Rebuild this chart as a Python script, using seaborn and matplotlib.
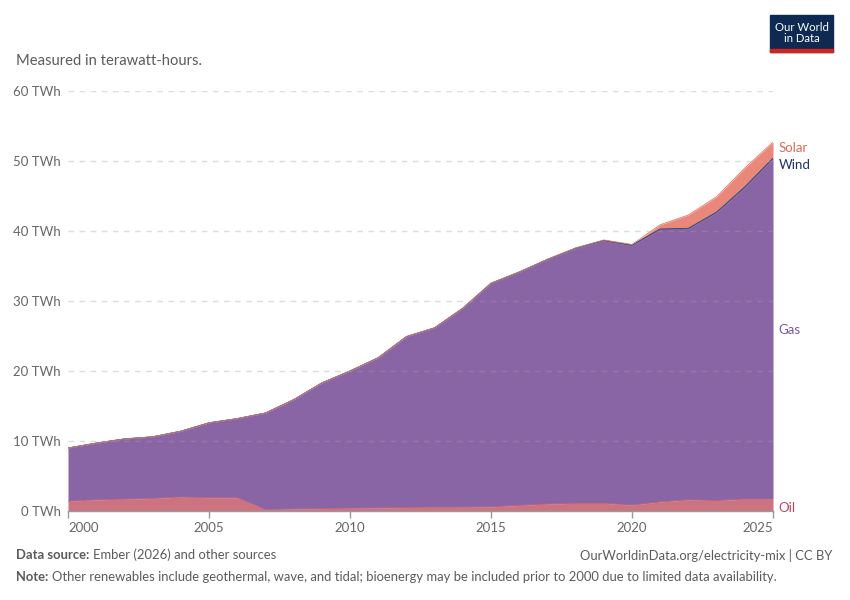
import numpy as np
import pandas as pd
import matplotlib
matplotlib.use("Agg")
import matplotlib.pyplot as plt
import seaborn as sns
from matplotlib.patches import Rectangle

# ========== 数据（从图上读取，单位 TWh） ==========
years = list(range(2000, 2026))
oil = [1.4, 1.6, 1.7, 1.8, 2.0, 1.9, 1.9, 0.2, 0.3, 0.35, 0.4, 0.45, 0.5,
       0.55, 0.55, 0.6, 0.8, 1.0, 1.1, 1.1, 0.85, 1.3, 1.6, 1.5, 1.7, 1.7]
gas = [7.6, 8.1, 8.6, 8.8, 9.4, 10.7, 11.3, 13.8, 15.6, 17.95, 19.6, 21.45,
       24.4, 25.6, 28.4, 31.9, 33.3, 34.9, 36.4, 37.5, 37.05, 38.9, 38.7,
       41.1, 44.5, 48.6]
wind = [0.0] * 12 + [0.02, 0.03, 0.03, 0.05, 0.05, 0.06, 0.07, 0.07,
                     0.08, 0.09, 0.09, 0.1, 0.1, 0.1]
solar = [0.0] * 19 + [0.05, 0.1, 0.6, 1.9, 2.2, 2.7, 2.3]

series_names = ["Oil", "Gas", "Wind", "Solar"]
fill_colors = {"Oil": "#cd737f", "Gas": "#8a65a5", "Wind": "#2b4a7e", "Solar": "#e9887a"}
edge_colors = {"Oil": "#c46676", "Gas": "#7f5d98", "Wind": "#2a4372", "Solar": "#df7a68"}
label_colors = {"Oil": "#c4455e", "Gas": "#7a56a0", "Wind": "#1a3263", "Solar": "#e06a55"}
label_y = {"Solar": 51.9, "Wind": 49.4, "Gas": 25.85, "Oil": 0.45}

df = pd.DataFrame({"year": years, "Oil": oil, "Gas": gas, "Wind": wind, "Solar": solar})
cum = df[series_names].cumsum(axis=1)

# ========== 绘图 ==========
sns.set_theme(style="white")
plt.rcParams["font.family"] = ["Lato", "DejaVu Sans"]

fig = plt.figure(figsize=(8.5, 6), dpi=100)
ax = fig.add_axes([68 / 850, 1 - 511 / 600, (773 - 68) / 850, 420 / 600])

bottom = np.zeros(len(df))
for name in series_names:
    top = cum[name].values
    ax.fill_between(df["year"], bottom, top, color=fill_colors[name], linewidth=0, zorder=2)
    sns.lineplot(x=df["year"], y=top, ax=ax, color=edge_colors[name],
                 linewidth=0.6, zorder=3, legend=False)
    bottom = top

ax.set_xlim(2000, 2025)
ax.set_ylim(0, 60)
ax.set_xlabel("")
ax.set_ylabel("")

# 网格线（虚线）：背景上为浅灰，面积上方很淡
for v in range(10, 70, 10):
    ax.axhline(v, color="#dddddd", linestyle=(0, (4, 4)), linewidth=1, zorder=1)
    ax.axhline(v, color="#dddddd", linestyle=(0, (4, 4)), linewidth=1, zorder=4, alpha=0.15)

for s in ["top", "right", "left"]:
    ax.spines[s].set_visible(False)
ax.spines["bottom"].set_color("#999999")
ax.spines["bottom"].set_linewidth(1)
ax.spines["bottom"].set_zorder(5)

ax.set_yticks(range(0, 70, 10))
ax.set_yticklabels([f"{v} TWh" for v in range(0, 70, 10)], fontsize=9.5, color="#666666")
ax.tick_params(axis="y", length=0, pad=5)
ax.set_xticks([2000, 2005, 2010, 2015, 2020, 2025])
ax.set_xticklabels(["2000", "2005", "2010", "2015", "2020", "2025"], fontsize=9.5, color="#666666")
ax.tick_params(axis="x", length=5, width=1, color="#999999", pad=3, bottom=True)
xt = ax.get_xticklabels()
xt[0].set_ha("left")
xt[-1].set_ha("right")

# 右侧系列标签
for name in ["Solar", "Wind", "Gas", "Oil"]:
    ax.text(2025.2, label_y[name], name, color=label_colors[name], fontsize=9.5,
            va="center", ha="left", clip_on=False)

# 副标题
fig.text(16 / 850, 1 - 61 / 600, "Measured in terawatt-hours.", fontsize=10.6,
         color="#5b5b5b", va="center", ha="left")

# Logo
fig.patches.append(Rectangle((770 / 850, 1 - 52 / 600), 63 / 850, 37 / 600,
                             transform=fig.transFigure, color="#0e2a52", zorder=1))
fig.patches.append(Rectangle((770 / 850, 1 - 52 / 600), 63 / 850, 3 / 600,
                             transform=fig.transFigure, color="#ce261e", zorder=2))
fig.text(801.5 / 850, 1 - 33 / 600, "Our World\nin Data", fontsize=8.2, color="white",
         ha="center", va="center", linespacing=1.0, zorder=3)

# 页脚：粗体前缀 + 正文，按实际宽度拼接
renderer = fig.canvas.get_renderer()
foot_size = 9.35


def bold_prefix_line(y_px, prefix, body):
    t = fig.text(16 / 850, 1 - y_px / 600, prefix, fontsize=foot_size, color="#5b5b5b",
                 fontweight="bold", va="center", ha="left")
    bb = t.get_window_extent(renderer=renderer)
    fig.text((bb.x1 + 4) / 850, 1 - y_px / 600, body, fontsize=foot_size,
             color="#5b5b5b", va="center", ha="left")


bold_prefix_line(555, "Data source:", "Ember (2026) and other sources")
fig.text(832 / 850, 1 - 555 / 600, "OurWorldinData.org/electricity-mix | CC BY",
         fontsize=foot_size, color="#5b5b5b", va="center", ha="right")
bold_prefix_line(577, "Note:", "Other renewables include geothermal, wave, and tidal; "
                 "bioenergy may be included prior to 2000 due to limited data availability.")

fig.savefig("out.png", dpi=100)
